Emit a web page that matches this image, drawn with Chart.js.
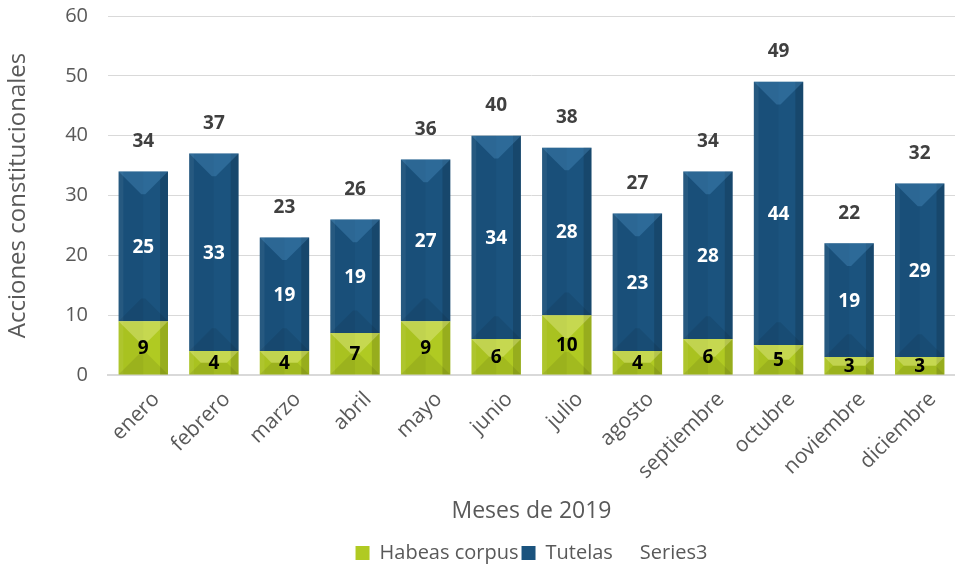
<!DOCTYPE html>
<html>
<head>
<meta charset="utf-8">
<script src="https://cdn.jsdelivr.net/npm/chart.js@4/dist/chart.umd.min.js"></script>
<style>
html,body{margin:0;padding:0;background:#fff;}
#wrap{width:955px;height:568px;}
</style>
</head>
<body>
<div id="wrap"><canvas id="c" width="955" height="568"></canvas></div>
<script>
const months = ["enero","febrero","marzo","abril","mayo","junio","julio","agosto","septiembre","octubre","noviembre","diciembre"];
const habeasCorpus = [9,4,4,7,9,6,10,4,6,5,3,3];
const tutelas = [25,33,19,19,27,34,28,23,28,44,19,29];
const series3 = [34,37,23,26,36,40,38,27,34,49,22,32];
const yTicks = [0,10,20,30,40,50,60];

const FONT = "'Open Sans', sans-serif";

const bevelPlugin = {
  id: 'bevel',
  afterDatasetsDraw(chart) {
    const ctx = chart.ctx;
    [0,1].forEach(di => {
      const meta = chart.getDatasetMeta(di);
      if (meta.hidden) return;
      meta.data.forEach(bar => {
        const p = bar.getProps(['x','y','base','width'], true);
        const l = p.x - p.width/2, r = p.x + p.width/2;
        const t = Math.min(p.y, p.base), b = Math.max(p.y, p.base);
        const h = b - t;
        const d = Math.min(p.width*0.46, h/2);
        const s = Math.min(p.width*0.16, h/2);
        ctx.save();
        ctx.fillStyle = 'rgba(0,0,0,0.04)';
        ctx.fillRect(l, t, p.width/2, h);
        ctx.fillStyle = 'rgba(0,0,0,0.14)';
        ctx.fillRect(r - s, t, s, h);
        ctx.fillStyle = 'rgba(255,255,255,0.06)';
        ctx.fillRect(l, t, s*0.6, h);
        ctx.fillStyle = di === 1 ? 'rgba(80,150,200,0.35)' : 'rgba(255,255,200,0.28)';
        ctx.beginPath(); ctx.moveTo(l,t); ctx.lineTo(r,t); ctx.lineTo(r-d,t+d); ctx.lineTo(l+d,t+d); ctx.closePath(); ctx.fill();
        ctx.fillStyle = 'rgba(0,0,0,0.08)';
        ctx.beginPath(); ctx.moveTo(l,b); ctx.lineTo(r,b); ctx.lineTo(r-d,b-d); ctx.lineTo(l+d,b-d); ctx.closePath(); ctx.fill();
        ctx.restore();
      });
    });
  }
};

const labelPlugin = {
  id: 'labels',
  afterDatasetsDraw(chart) {
    const ctx = chart.ctx;
    ctx.save();
    ctx.textAlign = 'center';
    ctx.textBaseline = 'middle';
    ctx.font = "bold 19px " + FONT;
    const m0 = chart.getDatasetMeta(0), m1 = chart.getDatasetMeta(1), m2 = chart.getDatasetMeta(2);
    m0.data.forEach((bar, i) => {
      const p = bar.getProps(['x','y','base'], true);
      ctx.fillStyle = '#000000';
      ctx.fillText(String(habeasCorpus[i]), p.x, (p.y + p.base)/2 + 1);
    });
    m1.data.forEach((bar, i) => {
      const p = bar.getProps(['x','y','base'], true);
      ctx.fillStyle = '#ffffff';
      ctx.fillText(String(tutelas[i]), p.x, (p.y + p.base)/2 + 1);
    });
    m2.data.forEach((pt, i) => {
      ctx.fillStyle = '#404040';
      ctx.fillText(String(series3[i]), pt.x, pt.y - 30);
    });
    ctx.restore();
  }
};

new Chart(document.getElementById('c'), {
  type: 'bar',
  data: {
    labels: months,
    datasets: [
      { label: 'Habeas corpus', data: habeasCorpus, backgroundColor: '#b0ca22', borderWidth: 0, barPercentage: 0.7, categoryPercentage: 1.0 },
      { label: 'Tutelas', data: tutelas, backgroundColor: '#1b537e', borderWidth: 0, barPercentage: 0.7, categoryPercentage: 1.0 },
      { type: 'line', label: 'Series3', data: series3, showLine: false, pointRadius: 0, pointHoverRadius: 0, backgroundColor: 'rgba(0,0,0,0)', borderColor: 'rgba(0,0,0,0)', borderWidth: 0 }
    ]
  },
  options: {
    responsive: false,
    animation: false,
    events: [],
    layout: { padding: { top: 16, right: 0, left: 0, bottom: -5 } },
    plugins: {
      tooltip: { enabled: false },
      legend: {
        position: 'bottom',
        fullSize: false,
        labels: {
          font: { family: FONT, size: 20 },
          color: '#595959',
          boxWidth: 14, boxHeight: 14, padding: 3
        }
      }
    },
    scales: {
      x: {
        stacked: true,
        grid: { display: false },
        border: { display: true, color: '#d9d9d9', width: 2 },
        ticks: { font: { family: FONT, size: 21 }, color: '#595959', minRotation: 45, maxRotation: 45, padding: 4, labelOffset: 13 },
        title: { display: true, text: 'Meses de 2019', font: { family: FONT, size: 23 }, color: '#595959', padding: { top: 4, bottom: 15 } },
        afterFit(axis) { axis.height = 165; }
      },
      y: {
        stacked: true,
        min: 0, max: 60,
        afterBuildTicks(axis) { axis.ticks = yTicks.map(v => ({ value: v })); },
        grid: { color: '#d9d9d9', lineWidth: 1, drawTicks: false },
        border: { display: false },
        ticks: { font: { family: FONT, size: 20 }, color: '#595959', padding: 20 },
        title: { display: true, text: 'Acciones constitucionales', font: { family: FONT, size: 24 }, color: '#595959', padding: { top: 4, bottom: 0 } },
        afterFit(axis) { axis.width = 108; axis.paddingTop = 0; axis.paddingBottom = 0; }
      }
    }
  },
  plugins: [bevelPlugin, labelPlugin]
});
</script>
</body>
</html>
